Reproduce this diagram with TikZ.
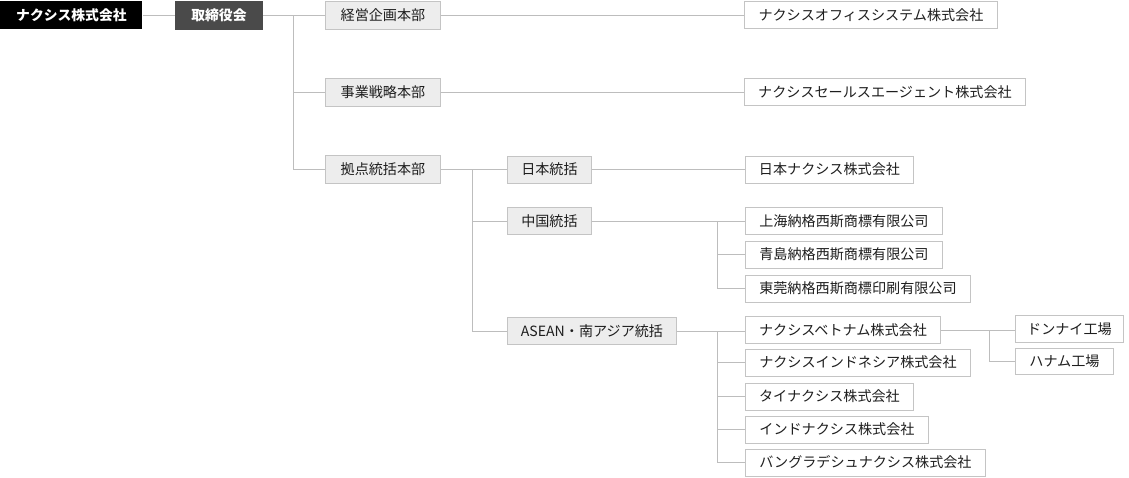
\documentclass[tikz,border=0pt]{standalone}
\usepackage{fontspec}
\setmainfont{Noto Sans CJK JP}
\definecolor{linegray}{HTML}{BDBDBD}
\definecolor{boxborder}{HTML}{C4C4C4}
\definecolor{deptfill}{HTML}{EDEDED}
\definecolor{boardfill}{HTML}{4A4A4A}
\definecolor{txt}{HTML}{1E1E1E}
\newcommand{\bx}[7]{%
  \node[#6, anchor=west, minimum width={(#4)-(#2)}, minimum height=#5] (#1) at (#2,#3) {#7};}
\begin{document}
\begin{tikzpicture}[x=1pt,y=-1pt,
  base/.style={inner sep=0pt, font=\fontsize{14.1}{16}\selectfont, text=txt, line width=0.9pt},
  topbox/.style={base, fill=black, text=white, font=\fontsize{13.8}{16}\selectfont\bfseries},
  boardbox/.style={base, fill=boardfill, draw=boardfill, text=white, font=\fontsize{13.8}{16}\selectfont\bfseries},
  deptbox/.style={base, fill=deptfill, draw=boxborder},
  cobox/.style={base, fill=white, draw=boxborder},
  conn/.style={draw=linegray, line width=0.9pt}]
\useasboundingbox (0,0) rectangle (1129,477);
% x1, ycenter, x2, height
\bx{top}{0}{15}{142}{28pt}{topbox}{ナクシス株式会社}
\bx{board}{175}{15}{262}{28pt}{boardbox}{取締役会}
\bx{keiei}{325}{15}{440}{28pt}{deptbox}{経営企画本部}
\bx{jigyo}{325}{92}{440}{28pt}{deptbox}{事業戦略本部}
\bx{kyoten}{325}{169.5}{440}{28pt}{deptbox}{拠点統括本部}
\bx{office}{744}{15}{997}{27pt}{cobox}{ナクシスオフィスシステム株式会社}
\bx{sales}{744}{92}{1025}{27pt}{cobox}{ナクシスセールスエージェント株式会社}
\bx{jp}{507}{169.5}{591}{27pt}{deptbox}{日本統括}
\bx{cn}{507}{221}{591}{27pt}{deptbox}{中国統括}
\bx{asean}{507}{331}{676}{27pt}{deptbox}{ASEAN・南アジア統括}
\bx{jpco}{745}{169.5}{913}{27pt}{cobox}{日本ナクシス株式会社}
\bx{sh}{745}{221}{942}{27pt}{cobox}{上海納格西斯商標有限公司}
\bx{qd}{745}{254.5}{942}{27pt}{cobox}{青島納格西斯商標有限公司}
\bx{dg}{745}{288.5}{970}{27pt}{cobox}{東莞納格西斯商標印刷有限公司}
\bx{vn}{745}{330}{940}{27pt}{cobox}{ナクシスベトナム株式会社}
\bx{idn}{745}{362.5}{970}{27pt}{cobox}{ナクシスインドネシア株式会社}
\bx{th}{745}{396.5}{913}{27pt}{cobox}{タイナクシス株式会社}
\bx{ind}{745}{429.5}{928}{27pt}{cobox}{インドナクシス株式会社}
\bx{bd}{745}{462.5}{985}{27pt}{cobox}{バングラデシュナクシス株式会社}
\bx{dn}{1015}{329}{1123}{27pt}{cobox}{ドンナイ工場}
\bx{hn}{1015}{361}{1113}{26pt}{cobox}{ハナム工場}
% trunk coordinates
\coordinate (t1) at (293,0);
\coordinate (t2) at (472.5,0);
\coordinate (t3) at (717.5,0);
\coordinate (t4) at (989,0);
% connectors
\draw[conn] (top.east) -- (board.west);
\draw[conn] (board.east) -- (keiei.west);
\draw[conn] (t1|-keiei.west) -- (t1|-kyoten.west) -- (kyoten.west);
\draw[conn] (t1|-jigyo.west) -- (jigyo.west);
\draw[conn] (keiei.east) -- (keiei.east-|office.west);
\draw[conn] (jigyo.east) -- (jigyo.east-|sales.west);
\draw[conn] (kyoten.east) -- (kyoten.east-|jp.west);
\draw[conn] (t2|-jp.west) -- (t2|-asean.west) -- (asean.west);
\draw[conn] (t2|-cn.west) -- (cn.west);
\draw[conn] (jp.east) -- (jp.east-|jpco.west);
\draw[conn] (cn.east) -- (cn.east-|sh.west);
\draw[conn] (t3|-cn.east) -- (t3|-dg.west) -- (dg.west);
\draw[conn] (t3|-qd.west) -- (qd.west);
\draw[conn] (asean.east) -- (asean.east-|vn.west);
\draw[conn] (t3|-asean.east) -- (t3|-bd.west) -- (bd.west);
\draw[conn] (t3|-idn.west) -- (idn.west);
\draw[conn] (t3|-th.west) -- (th.west);
\draw[conn] (t3|-ind.west) -- (ind.west);
\draw[conn] (vn.east) -- (vn.east-|dn.west);
\draw[conn] (t4|-vn.east) -- (t4|-hn.west) -- (hn.west);
\end{tikzpicture}
\end{document}
